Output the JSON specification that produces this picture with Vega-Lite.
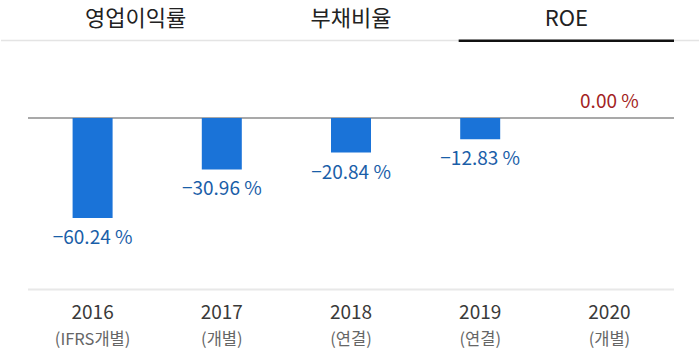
{
  "$schema": "https://vega.github.io/schema/vega-lite/v6.json",
  "width": 700,
  "height": 353,
  "autosize": {"type": "fit", "contains": "padding"},
  "padding": 0,
  "background": "#ffffff",
  "config": {"view": {"stroke": null}, "font": "Noto Sans CJK KR"},
  "datasets": {
    "roe": [
      {"year": "2016", "basis": "(IFRS개별)", "roe": -60.24},
      {"year": "2017", "basis": "(개별)", "roe": -30.96},
      {"year": "2018", "basis": "(연결)", "roe": -20.84},
      {"year": "2019", "basis": "(연결)", "roe": -12.83},
      {"year": "2020", "basis": "(개별)", "roe": 0.0}
    ],
    "tabs": [
      {"tab": "영업이익률", "selected": false},
      {"tab": "부채비율", "selected": false},
      {"tab": "ROE", "selected": true}
    ]
  },
  "resolve": {"scale": {"x": "independent"}},
  "layer": [
    {
      "data": {"values": [{}]},
      "mark": {"type": "rule", "color": "#e4e4e4", "strokeWidth": 1.5},
      "encoding": {
        "y": {"datum": 46.68, "type": "quantitative", "scale": {"domain": [-141.57, 71.08], "nice": false, "zero": false}, "axis": null}
      }
    },
    {
      "data": {"name": "tabs"},
      "layer": [
        {
          "mark": {"type": "text", "fontSize": 22, "color": "#222222", "baseline": "middle"},
          "encoding": {
            "x": {"field": "tab", "type": "nominal", "sort": null, "scale": {"range": [27, 673], "paddingInner": 0, "paddingOuter": 0}, "axis": null},
            "y": {"datum": 59.63, "type": "quantitative"},
            "text": {"field": "tab"}
          }
        },
        {
          "transform": [{"filter": "datum.selected"}],
          "mark": {"type": "bar", "color": "#111111"},
          "encoding": {
            "x": {"field": "tab", "type": "nominal", "sort": null},
            "y": {"datum": 47.28, "type": "quantitative"},
            "y2": {"datum": 45.78}
          }
        }
      ]
    },
    {
      "data": {"values": [{}]},
      "layer": [
        {
          "mark": {"type": "rule", "color": "#8c8c8c", "strokeWidth": 1.5},
          "encoding": {
            "x": {"datum": 0, "type": "quantitative", "scale": {"domain": [0, 1], "range": [27, 673], "nice": false, "zero": false}, "axis": null},
            "x2": {"datum": 1},
            "y": {"datum": 0, "type": "quantitative"}
          }
        },
        {
          "mark": {"type": "rule", "color": "#e8e8e8", "strokeWidth": 2},
          "encoding": {
            "x": {"datum": 0, "type": "quantitative"},
            "x2": {"datum": 1},
            "y": {"datum": -103.32, "type": "quantitative"}
          }
        }
      ]
    },
    {
      "data": {"name": "roe"},
      "transform": [
        {"calculate": "format(datum.roe, '.2f') + ' %'", "as": "label"}
      ],
      "encoding": {
        "x": {"field": "year", "type": "nominal", "sort": null, "scale": {"range": [27, 673], "paddingInner": 0, "paddingOuter": 0}, "axis": null}
      },
      "layer": [
        {
          "mark": {"type": "bar", "color": "#1a73d8", "width": 40},
          "encoding": {
            "y": {"field": "roe", "type": "quantitative"}
          }
        },
        {
          "transform": [{"filter": "datum.roe < 0"}],
          "mark": {"type": "text", "fontSize": 19, "color": "#1a5ea8", "baseline": "top", "dy": 11},
          "encoding": {
            "y": {"field": "roe", "type": "quantitative"},
            "text": {"field": "label"}
          }
        },
        {
          "transform": [{"filter": "datum.roe >= 0"}],
          "mark": {"type": "text", "fontSize": 19, "color": "#a31f24", "baseline": "bottom", "dy": -6},
          "encoding": {
            "y": {"field": "roe", "type": "quantitative"},
            "text": {"field": "label"}
          }
        },
        {
          "mark": {"type": "text", "fontSize": 19, "color": "#3a3a3a", "baseline": "middle"},
          "encoding": {
            "y": {"datum": -117.47, "type": "quantitative"},
            "text": {"field": "year"}
          }
        },
        {
          "mark": {"type": "text", "fontSize": 16.5, "color": "#666666", "baseline": "middle"},
          "encoding": {
            "y": {"datum": -133.74, "type": "quantitative"},
            "text": {"field": "basis"}
          }
        }
      ]
    }
  ]
}
